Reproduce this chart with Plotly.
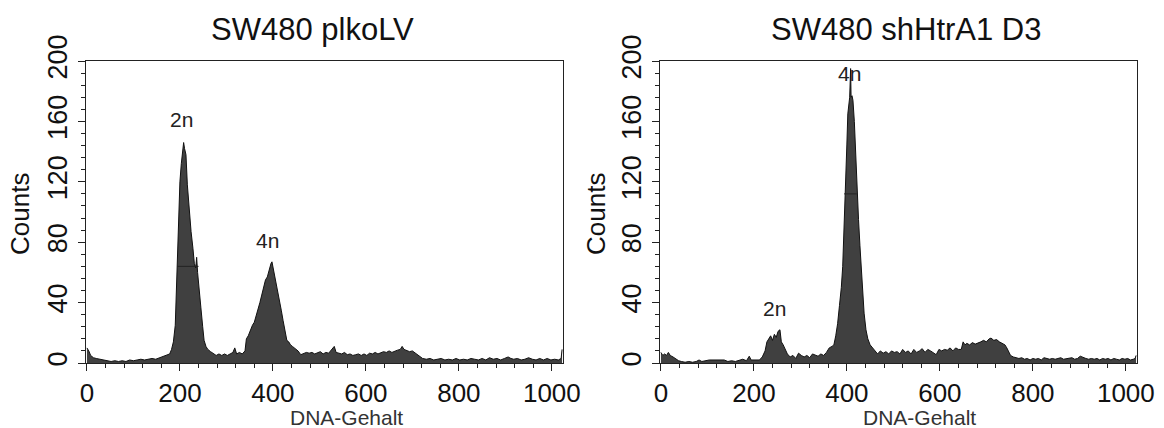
import plotly.graph_objects as go

# ---------------- data (channel -> counts) ----------------
left_title = "SW480 plkoLV"
right_title = "SW480 shHtrA1 D3"

left_channel = [0, 4, 8, 14, 20, 28, 36, 44, 52, 60, 68, 76, 84, 92, 100, 108, 116, 124, 132, 140,
                148, 156, 164, 172, 178, 182, 186, 190, 194, 197, 200, 203, 206, 208, 210, 213, 216,
                220, 224, 228, 231, 234, 236, 238, 241, 245, 249, 252, 256, 260, 266, 272, 278, 284,
                290, 296, 302, 308, 314, 318, 322, 328, 334, 340, 343, 347, 352, 356, 360, 364, 368,
                372, 376, 380, 384, 388, 392, 396, 398, 400, 403, 406, 410, 414, 418, 422, 426, 430,
                434, 438, 442, 446, 450, 454, 460, 466, 472, 478, 484, 490, 496, 502, 508, 514, 520,
                526, 532, 536, 542, 548, 554, 560, 566, 572, 578, 584, 590, 596, 602, 608, 614, 620,
                626, 632, 638, 644, 650, 656, 662, 668, 674, 678, 682, 688, 694, 700, 706, 712, 718,
                722, 730, 738, 746, 754, 762, 770, 778, 786, 794, 802, 810, 818, 826, 834, 842, 850,
                858, 866, 874, 882, 890, 898, 906, 912, 918, 926, 934, 942, 950, 958, 966, 974, 982,
                990, 998, 1006, 1014, 1020, 1022]
left_counts = [10, 8, 5, 3.5, 3, 2.5, 2, 1.5, 1, 1.5, 1, 1.5, 1, 2, 1.5, 2, 2.5, 2, 2.5, 3,
               2.5, 3.5, 4, 5, 6, 9, 14, 25, 60, 95, 120, 132, 141, 146, 142, 138, 118,
               100, 87, 76, 66, 63, 70, 60, 52, 37, 24, 15, 11, 9, 7.5, 6, 5, 6,
               5, 6, 5, 6, 7, 10, 6, 7, 6, 8, 16, 18, 22, 25, 27, 31, 35,
               40, 45, 50, 55, 57, 62, 66, 67, 64, 59, 54, 48, 42, 35, 28, 22, 15,
               14, 12, 11, 10, 8.5, 8, 5.5, 6, 7, 6.5, 7, 6, 7, 7.5, 6, 7, 6.5,
               9, 11, 7, 6.5, 6, 7, 5.5, 6, 5, 5.5, 6, 5, 6, 5, 6.5, 6, 7,
               6, 7, 7.5, 7, 8, 7, 8, 8.5, 9, 11, 9, 8, 7.5, 8, 6.5, 5, 4,
               3, 2.5, 3, 2, 2.5, 3, 2, 2.5, 2, 3, 2, 2.5, 2, 3, 2.5, 2, 3,
               2, 3.5, 2.5, 3, 2, 3, 4, 3, 2.5, 3, 2, 2.5, 3.5, 2.5, 2, 3, 2,
               3, 2, 2.5, 2, 3, 9]

right_channel = [0, 4, 8, 12, 16, 20, 26, 32, 38, 44, 52, 60, 68, 76, 82, 88, 96, 104, 112, 120,
                 128, 136, 144, 152, 160, 168, 176, 184, 190, 194, 200, 206, 212, 218, 224, 228, 232,
                 236, 240, 244, 248, 252, 256, 259, 263, 267, 272, 278, 284, 290, 296, 302, 308, 314,
                 320, 326, 332, 338, 344, 350, 356, 362, 368, 372, 376, 380, 384, 388, 391, 394, 397,
                 400, 402, 404, 406, 408, 409, 411, 413, 416, 419, 422, 425, 428, 431, 434, 437, 441,
                 445, 450, 455, 460, 466, 472, 478, 484, 490, 496, 502, 508, 514, 520, 526, 532, 538,
                 544, 550, 556, 562, 568, 574, 580, 586, 592, 598, 604, 610, 616, 622, 628, 634, 640,
                 646, 650, 654, 658, 664, 670, 676, 682, 688, 694, 700, 706, 710, 716, 722, 728, 734,
                 740, 744, 748, 752, 758, 764, 770, 776, 782, 788, 794, 800, 806, 812, 818, 824, 830,
                 836, 842, 848, 854, 860, 866, 872, 878, 884, 890, 896, 902, 908, 914, 920, 926, 932,
                 938, 944, 950, 956, 962, 968, 974, 980, 986, 992, 998, 1004, 1010, 1016, 1020, 1022]
right_counts = [7, 5, 6, 5, 7, 5, 4, 2.5, 1.5, 1, 0.5, 1, 0.5, 1, 2, 1, 1.5, 2, 2, 2,
                1.5, 2, 1, 1.5, 1, 2, 2.5, 1.5, 4.5, 2, 2, 1.5, 2, 4, 8, 14, 16,
                18, 15, 19, 17, 21, 22, 14, 12, 9, 6, 4, 5, 3, 6.5, 5, 4, 5,
                3.5, 6, 5, 4.5, 6, 5, 7, 10, 11, 12, 18, 26, 38, 50, 64, 88, 110,
                145, 165, 174, 176, 195, 176, 177, 174, 160, 136, 114, 95, 78, 60, 45, 33, 22,
                16, 12, 10, 8, 6, 8, 6.5, 7.5, 6, 8, 7, 7.5, 6, 9, 7, 8, 6,
                9, 7, 8, 9.5, 7, 9, 8, 7, 5.5, 9, 8, 9, 8.5, 10, 8, 10, 9,
                9, 14, 12, 13, 12, 13.5, 12.5, 13, 14, 15, 14, 16, 16.5, 15, 15.5, 14, 13,
                12, 10, 7, 5, 4, 3.5, 3, 3.5, 2.5, 3, 2, 3, 2.5, 3, 2, 3.5, 3,
                2.5, 3, 2.5, 3, 3.5, 2.5, 3, 3, 3.5, 2.5, 3, 4.5, 3.5, 3, 2.5, 3, 2.5,
                3, 2, 3, 2.5, 3, 2, 3, 2.5, 2, 3, 2.5, 3, 2, 2.5, 3, 5]

# gate marker lines drawn by the cytometer software
left_marker_x = [194, 240]
left_marker_y = [64, 64]
right_marker_x = [394, 421]
right_marker_y = [112, 112]

# peak labels
left_labels = ["2n", "4n"]
left_label_x = [203, 388]
left_label_y = [161, 81]
right_labels = ["2n", "4n"]
right_label_x = [245, 405]
right_label_y = [36, 192]

x_ticks = [0, 200, 400, 600, 800, 1000]
y_ticks = [0, 40, 80, 120, 160, 200]

FONT = "Liberation Sans"
FILL = "#404040"

fig = go.Figure()

for ch, ct, xa, ya in [(left_channel, left_counts, "x", "y"), (right_channel, right_counts, "x2", "y2")]:
    fig.add_trace(go.Scatter(x=ch, y=ct, mode="lines", fill="tozeroy", fillcolor=FILL,
                             line=dict(color="#111111", width=1), xaxis=xa, yaxis=ya,
                             showlegend=False, hoverinfo="skip"))

for mx, my, xa, ya in [(left_marker_x, left_marker_y, "x", "y"), (right_marker_x, right_marker_y, "x2", "y2")]:
    fig.add_trace(go.Scatter(x=mx, y=my, mode="lines", line=dict(color="#222222", width=1),
                             xaxis=xa, yaxis=ya, showlegend=False, hoverinfo="skip"))

ax_common = dict(showline=True, linecolor="#222222", linewidth=1.2, mirror=True,
                 showgrid=False, zeroline=False, ticks="outside", tickcolor="#222222",
                 ticklen=7, tickwidth=1.2, automargin=False)

xdoms = [[86 / 1164, 563 / 1164], [660 / 1164, 1137 / 1164]]
ydom = [1 - 363 / 428, 1 - 61 / 428]

layout = dict(width=1164, height=428, margin=dict(l=0, r=0, t=0, b=0, autoexpand=False),
              paper_bgcolor="white", plot_bgcolor="white",
              font=dict(family=FONT, color="#111111"))

for i, sfx in enumerate(["", "2"]):
    layout["xaxis" + sfx] = dict(ax_common, domain=xdoms[i], range=[-2, 1024],
                                 tickvals=x_ticks, anchor="y" + sfx,
                                 tickfont=dict(family=FONT, size=26, color="#111111"),
                                 minor=dict(dtick=40, ticklen=4, ticks="outside", tickcolor="#222222"))
    layout["yaxis" + sfx] = dict(ax_common, domain=ydom, range=[0, 200],
                                 tickvals=y_ticks, anchor="x" + sfx, tickangle=-90,
                                 tickfont=dict(family=FONT, size=27, color="#111111"),
                                 minor=dict(dtick=8, ticklen=4, ticks="outside", tickcolor="#222222"))

fig.update_layout(**layout)

annots = []
for txt, cx, cy in [(left_title, 312, 30), (right_title, 906, 30)]:
    annots.append(dict(text=txt, x=cx / 1164, y=1 - cy / 428, xref="paper", yref="paper",
                       showarrow=False, xanchor="center", yanchor="middle",
                       font=dict(family=FONT, size=31, color="#111111")))
for cx in [346, 919]:
    annots.append(dict(text="DNA-Gehalt", x=cx / 1164, y=1 - 417 / 428, xref="paper", yref="paper",
                       showarrow=False, xanchor="center", yanchor="middle",
                       font=dict(family=FONT, size=21, color="#333333")))
for cx in [20, 596]:
    annots.append(dict(text="Counts", x=cx / 1164, y=1 - 214 / 428, xref="paper", yref="paper",
                       showarrow=False, xanchor="center", yanchor="middle", textangle=-90,
                       font=dict(family=FONT, size=26, color="#111111")))
for labs, lx, ly, xr, yr in [(left_labels, left_label_x, left_label_y, "x", "y"),
                             (right_labels, right_label_x, right_label_y, "x2", "y2")]:
    for t, a, b in zip(labs, lx, ly):
        annots.append(dict(text=t, x=a, y=b, xref=xr, yref=yr, showarrow=False,
                           xanchor="center", yanchor="middle",
                           font=dict(family=FONT, size=21, color="#222222")))

fig.update_layout(annotations=annots)
fig.write_html("out.html")
